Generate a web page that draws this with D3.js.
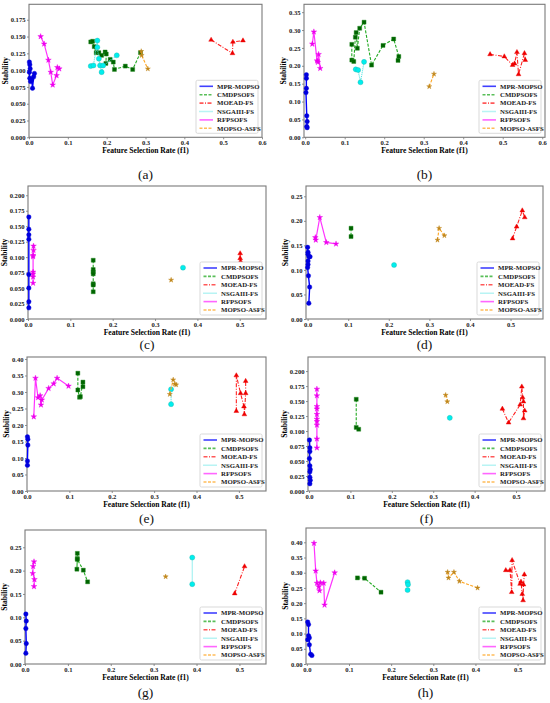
<!DOCTYPE html>
<html>
<head>
<meta charset="utf-8">
<script src="https://cdn.jsdelivr.net/npm/d3@7"></script>
<style>
  body { margin: 0; background: #fff; }
  svg text { font-family: "Liberation Serif", "Times New Roman", serif; }
</style>
</head>
<body>
<div id="chart"></div>
<script>
// Series names, one entry per method
const methods = ["MPR-MOPSO", "CMDPSOFS", "MOEAD-FS", "NSGAIII-FS", "RFPSOFS", "MOPSO-ASFS"];
const panelLabels = ["(a)", "(b)", "(c)", "(d)", "(e)", "(f)", "(g)", "(h)"];

// [f1, stability] per panel (a..h)
const MPR_MOPSO = [
  [[0.001,0.112],[0.002,0.108],[0.003,0.102],[0.001,0.097],[0.002,0.088],[0.004,0.083],[0.007,0.086],[0.009,0.073],[0.012,0.090],[0.014,0.095]],
  [[0.003,0.175],[0.003,0.165],[0.003,0.137],[0.002,0.125],[0.004,0.060],[0.005,0.044],[0.004,0.030],[0.005,0.027]],
  [[0.002,0.165],[0.002,0.145],[0.002,0.136],[0.002,0.129],[0.002,0.072],[0.002,0.050],[0.002,0.028],[0.002,0.018]],
  [[0.000,0.146],[0.001,0.136],[0.001,0.132],[0.003,0.127],[0.006,0.127],[0.001,0.118],[0.001,0.111],[0.000,0.105],[0.002,0.088],[0.005,0.065],[0.003,0.032]],
  [[0.001,0.164],[0.002,0.157],[0.002,0.139],[0.001,0.091],[0.001,0.078]],
  [[0.001,0.085],[0.002,0.072],[0.002,0.066],[0.001,0.054],[0.002,0.042],[0.003,0.036],[0.002,0.032],[0.002,0.023],[0.003,0.018],[0.002,0.012]],
  [[0.002,0.107],[0.003,0.092],[0.002,0.076],[0.003,0.044],[0.002,0.023]],
  [[0.002,0.138],[0.004,0.130],[0.004,0.093],[0.002,0.080],[0.006,0.086],[0.006,0.063],[0.009,0.032],[0.012,0.028]]
];
const CMDPSOFS = [
  [[0.159,0.142],[0.164,0.143],[0.168,0.135],[0.173,0.126],[0.180,0.126],[0.187,0.122],[0.196,0.127],[0.199,0.124],[0.198,0.110],[0.209,0.116],[0.217,0.112],[0.220,0.101],[0.248,0.106],[0.267,0.101],[0.287,0.126]],
  [[0.118,0.260],[0.118,0.216],[0.123,0.212],[0.127,0.280],[0.129,0.293],[0.132,0.249],[0.138,0.305],[0.149,0.322],[0.168,0.202],[0.197,0.257],[0.224,0.275],[0.237,0.226],[0.235,0.215]],
  [[0.154,0.095],[0.154,0.080],[0.154,0.076],[0.154,0.073],[0.154,0.057],[0.154,0.055],[0.154,0.044]],
  [[0.107,0.185],[0.107,0.168]],
  [[0.120,0.357],[0.120,0.306],[0.124,0.284],[0.126,0.286],[0.132,0.330],[0.132,0.316]],
  [[0.114,0.153],[0.114,0.106],[0.120,0.103]],
  [[0.122,0.237],[0.122,0.226],[0.121,0.203],[0.122,0.224],[0.136,0.201],[0.146,0.176]],
  [[0.120,0.283],[0.137,0.282],[0.176,0.236]]
];
const MOEAD_FS = [
  [[0.469,0.145],[0.524,0.125],[0.525,0.142],[0.551,0.144]],
  [[0.468,0.232],[0.504,0.226],[0.525,0.202],[0.530,0.206],[0.536,0.238],[0.540,0.176],[0.555,0.235],[0.557,0.216]],
  [[0.501,0.106],[0.501,0.098],[0.502,0.093]],
  [[0.505,0.164],[0.515,0.188],[0.529,0.221],[0.535,0.207]],
  [[0.494,0.242],[0.494,0.350],[0.504,0.296],[0.512,0.256],[0.513,0.232],[0.516,0.296],[0.516,0.333]],
  [[0.467,0.137],[0.482,0.114],[0.510,0.144],[0.514,0.174],[0.516,0.156],[0.518,0.149],[0.518,0.121],[0.521,0.134]],
  [[0.489,0.151],[0.512,0.209]],
  [[0.472,0.308],[0.482,0.308],[0.486,0.236],[0.487,0.341],[0.506,0.263],[0.508,0.270],[0.511,0.230],[0.513,0.209],[0.514,0.261],[0.516,0.294]]
];
const NSGAIII_FS = [
  [[0.159,0.106],[0.166,0.107],[0.176,0.144],[0.176,0.134],[0.180,0.117],[0.183,0.107],[0.187,0.097],[0.191,0.107],[0.226,0.122]],
  [[0.128,0.190],[0.134,0.188],[0.140,0.154],[0.149,0.211]],
  [[0.366,0.083]],
  [[0.213,0.110]],
  [[0.340,0.308],[0.340,0.263]],
  [[0.340,0.122]],
  [[0.390,0.228],[0.390,0.171]],
  [[0.239,0.269],[0.240,0.261],[0.239,0.243]]
];
const RFPSOFS = [
  [[0.030,0.150],[0.039,0.139],[0.050,0.115],[0.056,0.097],[0.061,0.078],[0.071,0.092],[0.073,0.104],[0.078,0.102]],
  [[0.018,0.261],[0.022,0.295],[0.030,0.214],[0.032,0.210],[0.034,0.232],[0.038,0.193]],
  [[0.013,0.118],[0.013,0.111],[0.012,0.103],[0.012,0.101],[0.012,0.076],[0.012,0.073],[0.012,0.068],[0.012,0.058]],
  [[0.019,0.166],[0.020,0.161],[0.030,0.207],[0.046,0.156],[0.070,0.153]],
  [[0.016,0.225],[0.020,0.342],[0.026,0.283],[0.031,0.289],[0.033,0.261],[0.035,0.276],[0.051,0.311],[0.063,0.325],[0.071,0.342],[0.098,0.318]],
  [[0.019,0.170],[0.019,0.159],[0.019,0.141],[0.019,0.137],[0.019,0.128],[0.019,0.120],[0.019,0.116],[0.019,0.110],[0.019,0.087],[0.019,0.072]],
  [[0.021,0.219],[0.019,0.209],[0.018,0.194],[0.022,0.181],[0.021,0.166]],
  [[0.017,0.397],[0.021,0.306],[0.024,0.266],[0.028,0.254],[0.030,0.241],[0.032,0.267],[0.040,0.266],[0.042,0.194],[0.066,0.300]]
];
const MOPSO_ASFS = [
  [[0.289,0.128],[0.290,0.122],[0.306,0.102]],
  [[0.314,0.142],[0.326,0.177]],
  [[0.338,0.063]],
  [[0.320,0.161],[0.324,0.185],[0.337,0.170]],
  [[0.337,0.293],[0.345,0.337],[0.349,0.324],[0.352,0.322]],
  [[0.330,0.160],[0.334,0.149]],
  [[0.328,0.187]],
  [[0.334,0.302],[0.336,0.283],[0.349,0.302],[0.362,0.272],[0.405,0.250]]
];

// axis limits and y tick step per panel
const xDomains = [[0,0.6],[-0.003,0.607],[0,0.562],[-0.004,0.58],[0,0.564],[-0.0025,0.57],[0,0.562],[-0.002,0.565]];
const yDomains = [[0,0.198],[0,0.372],[0,0.215],[0,0.271],[0,0.406],[0,0.2235],[0,0.287],[0,0.447]];
const yStep = [0.025, 0.05, 0.025, 0.05, 0.05, 0.025, 0.05, 0.05];

const allSeries = [MPR_MOPSO, CMDPSOFS, MOEAD_FS, NSGAIII_FS, RFPSOFS, MOPSO_ASFS];

// line + marker look of every method
const styles = [
  { line: "#0000ff", dash: null, marker: d3.symbolCircle, size: 16, fill: "#0000dd", stroke: "#0000dd", w: 1.4 },
  { line: "#22aa22", dash: "3,1.5", marker: d3.symbolSquare, size: 16, fill: "#006400", stroke: "#228b22", w: 1.1 },
  { line: "#ff2020", dash: "4,1.5,1,1.5", marker: d3.symbolTriangle, size: 10, fill: "#ee0000", stroke: "#ee0000", w: 1.1 },
  { line: "#40e0e0", dash: "1,1", marker: d3.symbolCircle, size: 20, fill: "#00eeee", stroke: "#20b2aa", w: 1.1 },
  { line: "#ff33ff", dash: null, marker: d3.symbolStar, size: 10, fill: "#ee00ee", stroke: "#ee00ee", w: 1.2 },
  { line: "#ffa520", dash: "3,1.5", marker: d3.symbolStar, size: 8, fill: "#c0861a", stroke: "#c0861a", w: 1.1 }
];

// panel boxes: left, top, right, bottom (px)
const boxes = [
  [29, 4.3, 262, 137.3], [304, 4.3, 545, 137.3],
  [28, 186, 266, 319], [306, 186, 543, 319],
  [27, 357, 266, 491], [308, 357, 545, 491],
  [25, 530, 266, 664], [306, 528, 545, 664]
];
// baseline of the panel letters
const labelY = [179, 179, 349, 349, 523, 523, 697, 697];

const svg = d3.select("#chart").append("svg")
    .attr("width", 550)
    .attr("height", 703);

panelLabels.forEach(function (lab, i) {
    const [l, t, r, b] = boxes[i];
    const g = svg.append("g");

    const x = d3.scaleLinear().domain(xDomains[i]).range([l, r]);
    const y = d3.scaleLinear().domain(yDomains[i]).range([b, t]);

    const dec = yStep[i] < 0.05 ? 3 : 2;
    const yTicks = d3.range(0, yDomains[i][1] + 1e-9, yStep[i]);
    const xTicks = d3.range(0, xDomains[i][1] + 1e-9, 0.1);

    // axes
    const xAxis = g.append("g")
        .attr("transform", `translate(0,${b})`)
        .call(d3.axisBottom(x).tickValues(xTicks).tickFormat(d3.format(".1f")).tickSize(2).tickPadding(1.5));
    const yAxis = g.append("g")
        .attr("transform", `translate(${l},0)`)
        .call(d3.axisLeft(y).tickValues(yTicks).tickFormat(d3.format(`.${dec}f`)).tickSize(2).tickPadding(1.5));
    [xAxis, yAxis].forEach(function (ax) {
        ax.select(".domain").remove();
        ax.selectAll("line").attr("stroke", "#444").attr("stroke-width", 0.6);
        ax.selectAll("text")
            .style("font-size", "6.6px")
            .style("font-weight", "bold")
            .attr("fill", "#222");
    });

    // frame
    g.append("rect")
        .attr("x", l).attr("y", t)
        .attr("width", r - l).attr("height", b - t)
        .attr("fill", "none")
        .attr("stroke", "#7a7a7a")
        .attr("stroke-width", 1.1);

    // axis titles
    g.append("text")
        .attr("x", (l + r) / 2)
        .attr("y", b + 15.5)
        .attr("text-anchor", "middle")
        .style("font-size", "7.6px")
        .style("font-weight", "bold")
        .text("Feature Selection Rate (f1)");
    g.append("text")
        .attr("transform", `translate(${l - (dec === 3 ? 21 : 18)},${(t + b) / 2}) rotate(-90)`)
        .attr("text-anchor", "middle")
        .style("font-size", "7.6px")
        .style("font-weight", "bold")
        .text("Stability");

    // series
    const line = d3.line().x(d => x(d[0])).y(d => y(d[1]));
    allSeries.forEach(function (series, k) {
        const pts = series[i];
        const s = styles[k];
        g.append("path")
            .datum(pts)
            .attr("d", line)
            .attr("fill", "none")
            .attr("stroke", s.line)
            .attr("stroke-width", s.w)
            .attr("stroke-dasharray", s.dash);
        g.selectAll(null)
            .data(pts)
            .enter()
            .append("path")
            .attr("d", d3.symbol().type(s.marker).size(s.size))
            .attr("transform", d => `translate(${x(d[0])},${y(d[1])})`)
            .attr("fill", s.fill)
            .attr("stroke", s.stroke)
            .attr("stroke-width", 0.4);
    });

    // legend, lower right
    const lw = 62, lh = 53;
    const lx = r - lw - 4, ly = b - lh - 4;
    const leg = g.append("g").attr("transform", `translate(${lx},${ly})`);
    leg.append("rect")
        .attr("width", lw).attr("height", lh)
        .attr("rx", 1.5)
        .attr("fill", "#fff")
        .attr("stroke", "#cfcfcf")
        .attr("stroke-width", 0.8);
    methods.forEach(function (m, k) {
        const s = styles[k];
        const cy = 6 + k * 8.4;
        leg.append("line")
            .attr("x1", 3.5).attr("x2", 17)
            .attr("y1", cy).attr("y2", cy)
            .attr("stroke", s.line)
            .attr("stroke-opacity", 0.75)
            .attr("stroke-width", 1.6)
            .attr("stroke-dasharray", s.dash);
        leg.append("text")
            .attr("x", 21)
            .attr("y", cy + 2.3)
            .style("font-size", "6.8px")
            .style("font-weight", "bold")
            .attr("fill", "#222")
            .text(m);
    });

    // panel letter
    svg.append("text")
        .attr("x", (l + r) / 2)
        .attr("y", labelY[i])
        .attr("text-anchor", "middle")
        .style("font-size", "13.5px")
        .attr("fill", "#111")
        .text(lab);
});
</script>
</body>
</html>
